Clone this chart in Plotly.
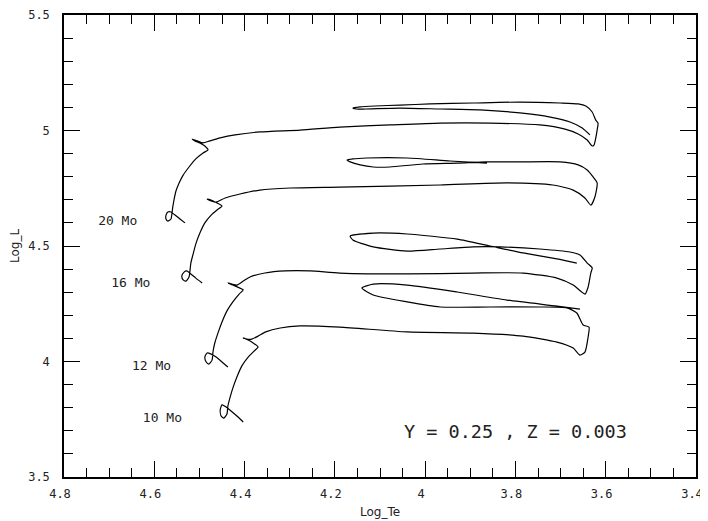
import plotly.graph_objects as go

# ---- data: evolutionary tracks (log Te, log L) ----
m20_logte = [4.532, 4.543, 4.554, 4.563, 4.570, 4.574, 4.574, 4.570, 4.563, 4.561, 4.559, 4.556, 4.552, 4.545,
             4.536, 4.523, 4.508, 4.492, 4.481, 4.488, 4.499, 4.510, 4.516, 4.505, 4.492, 4.477, 4.454, 4.421,
             4.366, 4.277, 4.189, 4.078, 3.967, 3.856, 3.746, 3.690, 3.661, 3.641, 3.630, 3.626, 3.622, 3.619,
             3.617, 3.622, 3.630, 3.644, 3.661, 3.701, 3.790, 3.894, 3.989, 4.056, 4.111, 4.144, 4.160, 4.153,
             4.133, 4.056, 3.967, 3.878, 3.790, 3.723, 3.679, 3.652, 3.635]
m20_logl = [4.600, 4.617, 4.634, 4.647, 4.647, 4.634, 4.617, 4.608, 4.617, 4.639, 4.669, 4.703, 4.738, 4.773,
            4.807, 4.842, 4.877, 4.903, 4.916, 4.933, 4.946, 4.955, 4.963, 4.955, 4.946, 4.955, 4.968, 4.981,
            4.994, 5.002, 5.015, 5.024, 5.032, 5.032, 5.024, 5.006, 4.985, 4.959, 4.933, 4.937, 4.968, 5.002,
            5.032, 5.045, 5.080, 5.106, 5.115, 5.119, 5.123, 5.119, 5.115, 5.110, 5.106, 5.102, 5.097, 5.093,
            5.093, 5.097, 5.093, 5.089, 5.076, 5.058, 5.037, 5.011, 4.981]

m16_logte = [4.494, 4.508, 4.519, 4.528, 4.534, 4.539, 4.536, 4.530, 4.523, 4.521, 4.519, 4.514, 4.508, 4.499,
             4.488, 4.474, 4.461, 4.450, 4.461, 4.474, 4.483, 4.474, 4.463, 4.443, 4.410, 4.366, 4.299, 4.189,
             3.967, 3.819, 3.717, 3.672, 3.646, 3.633, 3.624, 3.619, 3.628, 3.641, 3.661, 3.701, 3.790, 3.863,
             3.929, 4.005, 4.078, 4.115, 4.144, 4.166, 4.173, 4.160, 4.129, 4.040, 3.945, 3.863]
m16_logl = [4.340, 4.361, 4.379, 4.392, 4.387, 4.370, 4.353, 4.348, 4.366, 4.392, 4.426, 4.465, 4.509, 4.556,
            4.600, 4.634, 4.656, 4.673, 4.686, 4.699, 4.703, 4.695, 4.690, 4.708, 4.725, 4.742, 4.751, 4.755,
            4.764, 4.773, 4.764, 4.742, 4.708, 4.677, 4.712, 4.773, 4.799, 4.829, 4.851, 4.864, 4.864, 4.864,
            4.859, 4.855, 4.842, 4.842, 4.851, 4.864, 4.872, 4.877, 4.881, 4.881, 4.868, 4.859]

m12_logte = [4.437, 4.450, 4.463, 4.474, 4.483, 4.488, 4.485, 4.479, 4.472, 4.470, 4.466, 4.459, 4.450, 4.439,
             4.426, 4.412, 4.403, 4.415, 4.426, 4.437, 4.428, 4.417, 4.403, 4.388, 4.355, 4.310, 4.255, 4.189,
             4.040, 3.894, 3.783, 3.708, 3.672, 3.646, 3.639, 3.633, 3.630, 3.641, 3.657, 3.679, 3.746, 3.834,
             3.894, 3.967, 4.040, 4.115, 4.160, 4.166, 4.115, 4.040, 3.929, 3.856, 3.783, 3.708, 3.664]
m12_logl = [3.976, 3.998, 4.019, 4.032, 4.037, 4.019, 3.998, 3.989, 4.006, 4.041, 4.080, 4.123, 4.171, 4.219,
            4.258, 4.292, 4.310, 4.322, 4.331, 4.340, 4.335, 4.331, 4.348, 4.366, 4.383, 4.392, 4.392, 4.383,
            4.379, 4.383, 4.383, 4.361, 4.331, 4.292, 4.322, 4.383, 4.405, 4.426, 4.461, 4.474, 4.487, 4.496,
            4.496, 4.487, 4.478, 4.496, 4.526, 4.543, 4.556, 4.552, 4.530, 4.500, 4.470, 4.444, 4.426]

m10_logte = [4.403, 4.417, 4.430, 4.441, 4.450, 4.454, 4.452, 4.446, 4.439, 4.437, 4.432, 4.426, 4.417, 4.406,
             4.392, 4.379, 4.370, 4.381, 4.392, 4.403, 4.395, 4.384, 4.370, 4.353, 4.321, 4.277, 4.189, 4.040,
             3.894, 3.783, 3.708, 3.672, 3.657, 3.646, 3.639, 3.637, 3.650, 3.664, 3.686, 3.746, 3.856, 3.967,
             4.040, 4.115, 4.140, 4.115, 4.040, 3.929, 3.819, 3.708, 3.657]
m10_logl = [3.738, 3.764, 3.786, 3.803, 3.812, 3.790, 3.764, 3.755, 3.773, 3.807, 3.846, 3.885, 3.933, 3.981,
            4.019, 4.045, 4.063, 4.080, 4.093, 4.102, 4.097, 4.097, 4.110, 4.128, 4.145, 4.154, 4.149, 4.128,
            4.123, 4.110, 4.084, 4.058, 4.028, 4.041, 4.106, 4.149, 4.158, 4.210, 4.232, 4.236, 4.236, 4.236,
            4.258, 4.288, 4.318, 4.335, 4.331, 4.301, 4.266, 4.240, 4.227]

mass_labels = ["20 Mo", "16 Mo", "12 Mo", "10 Mo"]
label_logte = [4.681, 4.652, 4.606, 4.582]
label_logl = [4.604, 4.335, 3.976, 3.751]

comp_text = "Y = 0.25 , Z = 0.003"
comp_logte = 3.80
comp_logl = 3.690

x_title = "Log_Te"
y_title = "Log_L"

fig = go.Figure()
for xs, ys in [(m20_logte, m20_logl), (m16_logte, m16_logl), (m12_logte, m12_logl), (m10_logte, m10_logl)]:
    fig.add_trace(go.Scatter(x=xs, y=ys, mode="lines",
                             line=dict(color="black", width=1.2, shape="spline", smoothing=0.6),
                             showlegend=False, hoverinfo="skip"))

fig.add_trace(go.Scatter(x=label_logte, y=label_logl, mode="text", text=mass_labels,
                         textfont=dict(family="DejaVu Sans Mono", size=13, color="#222"),
                         showlegend=False, hoverinfo="skip"))
fig.add_trace(go.Scatter(x=[comp_logte], y=[comp_logl], mode="text", text=[comp_text],
                         textfont=dict(family="DejaVu Sans Mono", size=18.5, color="#222"),
                         showlegend=False, hoverinfo="skip"))

axis_common = dict(showgrid=False, zeroline=False, showline=True, linecolor="black", linewidth=1.5,
                   mirror="ticks", ticks="inside", tickcolor="black", tickwidth=1, automargin=False,
                   ticklabeloverflow="allow",
                   tickfont=dict(family="DejaVu Sans Mono", size=12, color="#222"))

fig.update_xaxes(range=[4.8, 3.4], dtick=0.2, tick0=3.4, ticklen=16, ticklabelstandoff=5,
                 ticklabelshift=4,
                 minor=dict(dtick=0.05, ticklen=9, ticks="inside", tickcolor="black", tickwidth=1),
                 **axis_common)
fig.update_yaxes(range=[3.5, 5.5], dtick=0.5, tick0=3.5, ticklen=16, ticklabelstandoff=10,
                 minor=dict(dtick=0.1, ticklen=9, ticks="inside", tickcolor="black", tickwidth=1),
                 **axis_common)

fig.add_annotation(text=x_title, xref="paper", yref="paper", x=0.5, y=0, yanchor="middle",
                   yshift=-35, showarrow=False, font=dict(family="DejaVu Sans", size=12, color="#222"))
fig.add_annotation(text=y_title, xref="paper", yref="paper", x=0, y=0.5, xanchor="center",
                   xshift=-49, textangle=-90, showarrow=False,
                   font=dict(family="DejaVu Sans", size=12, color="#222"))

# page body adds an 8px offset, so the figure is sized to keep the frame where the reference has it
fig.update_layout(template="none", width=700, height=513, margin=dict(l=56, r=12, t=7, b=44),
                  plot_bgcolor="white", paper_bgcolor="white")

fig.write_html("out.html")
